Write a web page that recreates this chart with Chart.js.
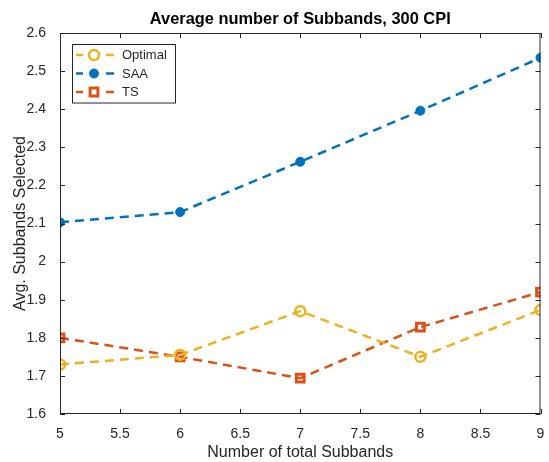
<!DOCTYPE html>
<html>
<head>
<meta charset="utf-8">
<script src="https://cdn.jsdelivr.net/npm/chart.js@4/dist/chart.umd.min.js"></script>
<style>
  html, body { margin: 0; padding: 0; background: #fff; }
  #wrap { width: 549px; height: 462px; }
</style>
</head>
<body>
<div id="wrap"><canvas id="chart" width="549" height="462"></canvas></div>
<script>
// ── Data ────────────────────────────────────────────────────
const subbands = [5, 6, 7, 8, 9];
const optimalAvg = [1.73, 1.755, 1.87, 1.75, 1.873];
const saaAvg = [2.103, 2.13, 2.262, 2.396, 2.535];
const tsAvg = [1.80, 1.75, 1.694, 1.828, 1.92];

const xTicks = [5, 5.5, 6, 6.5, 7, 7.5, 8, 8.5, 9];
const yTicks = [1.6, 1.7, 1.8, 1.9, 2, 2.1, 2.2, 2.3, 2.4, 2.5, 2.6];

const chartTitle = 'Average number of Subbands, 300 CPI';

const FONT = '"Liberation Sans", Arial, sans-serif';
const AXIS_COLOR = '#262626';

const toPoints = ys => subbands.map((x, i) => ({ x: x, y: ys[i] }));

// ── Plugins ─────────────────────────────────────────────────

// box around the axes with inward ticks on all four sides, title centred over the axes
const boxPlugin = {
    id: 'box',
    afterDatasetsDraw(chart) {
        const { ctx, chartArea: a, scales } = chart;
        ctx.save();
        ctx.strokeStyle = AXIS_COLOR;
        ctx.lineWidth = 1;
        ctx.strokeRect(a.left + 0.5, a.top + 0.5, a.right - a.left - 1, a.bottom - a.top - 1);
        const len = 5;
        ctx.beginPath();
        xTicks.forEach(v => {
            const px = Math.round(scales.x.getPixelForValue(v)) + 0.5;
            ctx.moveTo(px, a.bottom); ctx.lineTo(px, a.bottom - len);
            ctx.moveTo(px, a.top); ctx.lineTo(px, a.top + len);
        });
        yTicks.forEach(v => {
            const py = Math.round(scales.y.getPixelForValue(v)) + 0.5;
            ctx.moveTo(a.left, py); ctx.lineTo(a.left + len, py);
            ctx.moveTo(a.right, py); ctx.lineTo(a.right - len, py);
        });
        ctx.stroke();

        ctx.fillStyle = '#000';
        ctx.font = 'bold 16.4px ' + FONT;
        ctx.textAlign = 'center';
        ctx.textBaseline = 'alphabetic';
        ctx.fillText(chartTitle, (a.left + a.right) / 2, a.top - 9.5);
        ctx.restore();
    }
};

function drawMarker(ctx, ds, cx, cy) {
    ctx.save();
    ctx.setLineDash([]);
    ctx.lineWidth = ds.pointBorderWidth;
    ctx.strokeStyle = ds.borderColor;
    ctx.fillStyle = ds.pointBackgroundColor;
    const r = ds.pointRadius;
    ctx.beginPath();
    if (ds.pointStyle === 'rect') {
        const s = r * Math.SQRT1_2;
        ctx.rect(cx - s, cy - s, s * 2, s * 2);
    } else {
        ctx.arc(cx, cy, r, 0, Math.PI * 2);
    }
    ctx.fill();
    ctx.stroke();
    ctx.restore();
}

// legend box in the upper left corner of the axes
const legendPlugin = {
    id: 'innerLegend',
    afterDraw(chart) {
        const { ctx, chartArea: a } = chart;
        const x0 = a.left + 12, y0 = a.top + 11, w = 103, rowH = 18.5;
        const h = rowH * chart.data.datasets.length + 3;
        ctx.save();
        ctx.fillStyle = '#fff';
        ctx.fillRect(x0, y0, w, h);
        ctx.strokeStyle = AXIS_COLOR;
        ctx.lineWidth = 1;
        ctx.strokeRect(x0 + 0.5, y0 + 0.5, w, h);
        chart.data.datasets.forEach((ds, i) => {
            const cy = y0 + 11 + i * rowH;
            ctx.strokeStyle = ds.borderColor;
            ctx.lineWidth = ds.borderWidth;
            ctx.setLineDash([]);
            ctx.beginPath();
            ctx.moveTo(x0 + 4, cy); ctx.lineTo(x0 + 11, cy);
            ctx.moveTo(x0 + 34, cy); ctx.lineTo(x0 + 42, cy);
            ctx.stroke();
            drawMarker(ctx, ds, x0 + 22, cy);
            ctx.fillStyle = AXIS_COLOR;
            ctx.font = '13px ' + FONT;
            ctx.textBaseline = 'middle';
            ctx.fillText(ds.label, x0 + 50, cy + 0.5);
        });
        ctx.restore();
    }
};

// ── Chart ───────────────────────────────────────────────────

const commonLine = {
    borderWidth: 2.5,
    borderDash: [9, 6],
    fill: false,
    tension: 0,
    pointRadius: 5,
    pointHoverRadius: 5,
    pointBorderWidth: 2.5,
};

new Chart(document.getElementById('chart'), {
    type: 'line',
    data: {
        datasets: [
            Object.assign({}, commonLine, {
                label: 'Optimal',
                data: toPoints(optimalAvg),
                borderColor: '#EDB120',
                pointBackgroundColor: 'rgba(255,255,255,0)',
                pointStyle: 'circle',
            }),
            Object.assign({}, commonLine, {
                label: 'SAA',
                data: toPoints(saaAvg),
                borderColor: '#0072BD',
                pointBackgroundColor: '#0072BD',
                pointStyle: 'circle',
                pointRadius: 4.5,
                pointBorderWidth: 1,
            }),
            Object.assign({}, commonLine, {
                label: 'TS',
                data: toPoints(tsAvg),
                borderColor: '#D95319',
                pointBackgroundColor: 'rgba(255,255,255,0)',
                pointStyle: 'rect',
                pointRadius: 5.5,
                pointBorderWidth: 3,
            }),
        ]
    },
    options: {
        responsive: false,
        animation: false,
        layout: { padding: { top: 33, right: 6, left: 0, bottom: 0 } },
        plugins: {
            legend: { display: false },
            tooltip: { enabled: false },
            title: { display: false },
        },
        scales: {
            x: {
                type: 'linear',
                min: 5,
                max: 9,
                grid: { display: false },
                border: { display: false },
                afterBuildTicks: scale => { scale.ticks = xTicks.map(v => ({ value: v })); },
                afterFit: scale => { scale.height = 48; },
                ticks: {
                    color: AXIS_COLOR,
                    font: { family: FONT, size: 14 },
                    padding: 4,
                    maxRotation: 0,
                    callback: v => String(v),
                },
                title: {
                    display: true,
                    text: 'Number of total Subbands',
                    color: AXIS_COLOR,
                    font: { family: FONT, size: 16 },
                    padding: { top: 2, bottom: 0 },
                },
            },
            y: {
                min: 1.6,
                max: 2.6,
                grid: { display: false },
                border: { display: false },
                afterBuildTicks: scale => { scale.ticks = yTicks.map(v => ({ value: v })); },
                afterFit: scale => { scale.width = 60; },
                ticks: {
                    color: AXIS_COLOR,
                    font: { family: FONT, size: 14 },
                    padding: 6,
                    callback: v => String(Number(v.toFixed(1))),
                },
                title: {
                    display: true,
                    text: 'Avg. Subbands Selected',
                    color: AXIS_COLOR,
                    font: { family: FONT, size: 16 },
                    padding: { top: 11, bottom: 0 },
                },
            },
        },
    },
    plugins: [boxPlugin, legendPlugin],
});
</script>
</body>
</html>
